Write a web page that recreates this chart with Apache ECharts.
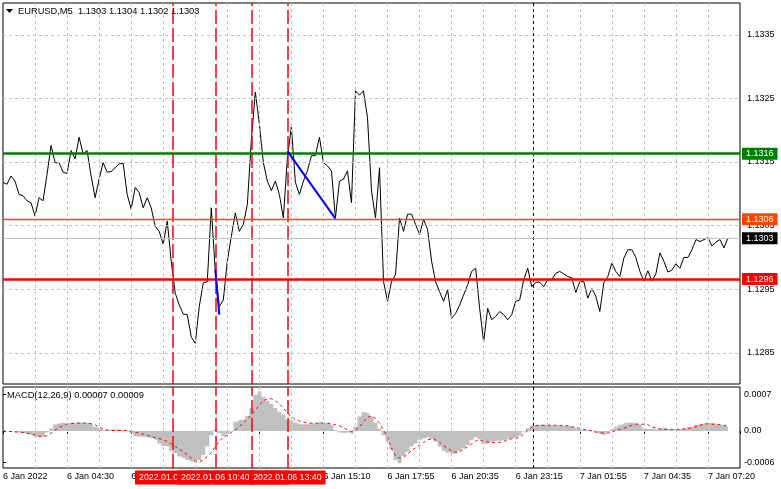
<!DOCTYPE html>
<html><head><meta charset="utf-8">
<script src="https://cdn.jsdelivr.net/npm/echarts@6/dist/echarts.min.js"></script>
<style>html,body{margin:0;padding:0;background:#fff;}#c{width:781px;height:489px;}</style>
</head><body><div id="c"></div>
<script>
// ---- data (one sample every 2 M5 bars, first bar = 6 Jan 01:50) ----
const prices = [
1.13118,1.13115,1.13128,1.13120,1.13099,1.13097,1.13089,1.13086,1.13065,1.13094,
1.13089,1.13131,1.13176,1.13149,1.13149,1.13134,1.13132,1.13168,1.13155,1.13189,
1.13163,1.13168,1.13128,1.13094,1.13123,1.13149,1.13134,1.13135,1.13141,1.13147,
1.13148,1.13099,1.13076,1.13110,1.13102,1.13078,1.13094,1.13078,1.13049,1.13041,
1.13021,1.13057,1.12994,1.12944,1.12925,1.12911,1.12910,1.12875,1.12865,1.12923,
1.12960,1.12962,1.13078,1.12978,1.12923,1.12933,1.12994,1.13033,1.13070,1.13041,
1.13052,1.13083,1.13184,1.13260,1.13210,1.13149,1.13120,1.13105,1.13120,1.13099,
1.13062,1.13157,1.13205,1.13118,1.13099,1.13120,1.13136,1.13160,1.13160,1.13189,
1.13149,1.13144,1.13136,1.13062,1.13120,1.13123,1.13136,1.13086,1.13262,1.13255,
1.13262,1.13220,1.13105,1.13062,1.13141,1.12962,1.12931,1.12962,1.12973,1.13062,
1.13041,1.13068,1.13068,1.13052,1.13036,1.13060,1.13044,1.12994,1.12962,1.12946,
1.12931,1.12949,1.12904,1.12912,1.12925,1.12941,1.12957,1.12978,1.12983,1.12920,
1.12867,1.12920,1.12902,1.12907,1.12915,1.12910,1.12902,1.12910,1.12931,1.12933,
1.12965,1.12983,1.12954,1.12961,1.12961,1.12954,1.12965,1.12965,1.12975,1.12978,
1.12974,1.12970,1.12968,1.12945,1.12962,1.12962,1.12936,1.12951,1.12939,1.12915,
1.12960,1.12970,1.12991,1.12978,1.12970,1.12999,1.13012,1.13012,1.13000,1.12978,
1.12963,1.12979,1.12963,1.12974,1.13007,1.12994,1.12977,1.12980,1.12990,1.12983,
1.13000,1.13000,1.13012,1.13028,1.13025,1.13028,1.13031,1.13018,1.13024,1.13028,
1.13015,1.13031];
const macdMain = [
0.00001,0,-0.00001,-0.00002,-0.00003,-0.00004,-0.00006,-0.00008,-0.00011,-0.00012,
-0.0001,-0.00003,0.00005,0.00013,0.00015,0.00016,0.00015,0.00016,0.00016,0.00017,
0.00016,0.00016,0.00013,0.00008,0.00005,0.00002,0.00002,0.00003,0.00003,0.00003,
0.00002,0.00001,-0.00004,-0.0001,-0.00011,-0.00011,-0.00012,-0.00014,-0.00017,-0.00024,
-0.00029,-0.0003,-0.00038,-0.00043,-0.00049,-0.00052,-0.00056,-0.00059,-0.00061,-0.00056,
-0.00046,-0.0003,-0.00008,0.00003,-0.00004,-0.0001,-0.00006,-0.00001,0.00018,0.00021,
0.00022,0.00029,0.00044,0.00069,0.00076,0.00066,0.00058,0.00052,0.00044,0.00037,
0.00031,0.00022,0.0002,0.00016,0.00013,0.00013,0.00013,0.00015,0.00015,0.00018,
0.00016,0.00015,0.00012,0.00002,-0.00003,-0.00004,-0.00003,-0.00006,0.00008,0.00028,
0.00036,0.00034,0.00028,0.00016,0.00005,-0.00008,-0.0002,-0.00036,-0.00056,-0.00062,
-0.00048,-0.0004,-0.0003,-0.00024,-0.00017,-0.00014,-0.00012,-0.00016,-0.0002,-0.0003,
-0.00038,-0.00042,-0.00044,-0.00043,-0.00038,-0.00033,-0.00027,-0.00017,-0.00012,-0.00016,
-0.00025,-0.00024,-0.0002,-0.00019,-0.00019,-0.00017,-0.00016,-0.00014,-0.00011,-0.00008,
-0.00001,0.00005,0.0001,0.00012,0.00012,0.00012,0.00012,0.00011,0.00011,0.0001,
0.0001,0.0001,0.00008,0.00005,0.00003,0.00002,0.00002,0.00001,-0.00003,-0.00006,
-0.00008,-0.00003,0.00003,0.00008,0.00012,0.00015,0.00016,0.00016,0.00015,0.00012,
0.00005,0.00004,0.00005,0.00003,0.00005,0.00006,0.00003,0.00003,0.00004,0.00004,
0.00005,0.00007,0.00008,0.00012,0.00013,0.00015,0.00016,0.00015,0.00013,0.00012,
0.0001,0.00007];
const macdSignal = [
0,-0.00001,-0.00001,-0.00002,-0.00002,-0.00003,-0.00004,-0.00006,-0.00008,-0.0001,
-0.00011,-0.00009,-0.00004,0.00002,0.00006,0.0001,0.00013,0.00014,0.00015,0.00015,
0.00015,0.00015,0.00014,0.00012,0.00008,0.00004,0.00002,0.00001,0.00001,0.00001,
0.00001,0.00001,-0.00001,-0.00003,-0.00004,-0.00006,-0.00008,-0.00011,-0.00013,-0.00015,
-0.00017,-0.0002,-0.00025,-0.0003,-0.00035,-0.0004,-0.00046,-0.00052,-0.00058,-0.00059,
-0.00056,-0.00049,-0.00042,-0.0003,-0.0002,-0.00012,-0.00008,-0.00003,0.00002,0.00008,
0.00016,0.00022,0.00031,0.0004,0.0005,0.00058,0.00062,0.00062,0.00058,0.00052,
0.00044,0.00035,0.00028,0.00022,0.00019,0.00017,0.00015,0.00015,0.00015,0.00015,
0.00015,0.00015,0.00014,0.00012,0.0001,0.00006,0.00002,-0.00001,0.00002,0.00008,
0.00018,0.00026,0.00029,0.00024,0.00015,0.00002,-0.00012,-0.00033,-0.00048,-0.00052,
-0.00051,-0.00044,-0.00038,-0.00032,-0.00028,-0.00022,-0.00017,-0.00015,-0.00017,-0.00022,
-0.00028,-0.00033,-0.00038,-0.00041,-0.0004,-0.00035,-0.0003,-0.00025,-0.00019,-0.00017,
-0.0002,-0.00021,-0.00022,-0.00022,-0.00022,-0.0002,-0.00017,-0.00015,-0.00014,-0.00012,
-0.00006,0.00001,0.00007,0.0001,0.00011,0.00011,0.00011,0.00011,0.00011,0.00011,
0.0001,0.0001,0.00008,0.00007,0.00005,0.00003,0.00002,0,-0.00002,-0.00004,
-0.00004,-0.00004,-0.00002,0.00001,0.00003,0.00005,0.00008,0.00011,0.00013,0.00013,
0.00013,0.00012,0.00008,0.00006,0.00004,0.00003,0.00003,0.00003,0.00003,0.00003,
0.00004,0.00005,0.00006,0.00008,0.00011,0.00013,0.00014,0.00013,0.00013,0.00012,
0.00011,0.00009];
const barsPerSample = 2;
const lastBar = 368;
const timeLabelBars = [0,32,64,96,128,160,192,224,256,288,320,352];
const timeLabels = ['6 Jan 2022','6 Jan 04:30','6 Jan 07:10','6 Jan 09:50','6 Jan 12:30','6 Jan 15:10',
                    '6 Jan 17:55','6 Jan 20:35','6 Jan 23:15','7 Jan 01:55','7 Jan 04:35','7 Jan 07:20'];
const gridBars = [16,32,48,64,80,96,112,128,144,160,176,192,208,224,240,256,272,288,304,320,336,352];
const priceTicks = [1.1285,1.1295,1.1305,1.1315,1.1325,1.1335];
const priceTickLabels = ['1.1285','1.1295','1.1305','1.1315','1.1325','1.1335'];
const levelValues = [1.13163,1.1306,1.1303,1.12966];
const levelLabels = ['1.1316','1.1306','1.1303','1.1296'];
const trend1Bars = [106,108], trend1Prices = [1.12981,1.12910];
const trend2Bars = [142,166], trend2Prices = [1.13167,1.13061];
const eventBars = [85,106,124,142];
const eventLabels = ['2022.01.06 08:55','2022.01.06 10:40','2022.01.06 12:10','2022.01.06 13:40'];
const nowBar = 265;
const macdTicks = [0.0007,0,-0.0006];
const macdTickLabels = ['0.0007','0.00','-0.0006'];
const title = 'EURUSD,M5  1.1303 1.1304 1.1302 1.1303';
const macdTitle = 'MACD(12,26,9) 0.00007 0.00009';

// ---- styles ----
const FF = 'Liberation Sans';
const levelColors = ['#008000','#ff4500','#c0c0c0','#ff0000'];
const levelBg = ['#008000','#ff4500','#000000','#ff0000'];
const levelWidths = [2.5,1.3,1,2.5];
const gridStyle = {color:'#c0c0c0', width:1, type:[3,3]};
const redDash = {color:'#ff0000', width:1.5, type:[14,4]};
const nowStyle = {color:'#000', width:1, type:[3,3]};

const chart = echarts.init(document.getElementById('c'), null, {renderer:'canvas'});
const pricePts = prices.map((p,i)=>[i*barsPerSample,p]);
const mainPts = macdMain.map((v,i)=>[i*barsPerSample,v]);
const sigPts = macdSignal.map((v,i)=>[i*barsPerSample,v]);
const pick = (vals, labs) => v => { let k=0,d=1e9; vals.forEach((x,i)=>{const dd=Math.abs(x-v); if(dd<d){d=dd;k=i;}}); return labs[k]; };

function xAxisCfg(gi, showLabels){
  return {type:'value', gridIndex:gi, min:0, max:lastBar, interval:32,
    axisLine:{show:false}, splitLine:{show:false},
    axisTick:{show:showLabels, length:3, lineStyle:{color:'#000'}},
    axisLabel:{show:showLabels, align:'left', margin:4, color:'#000', fontFamily:FF, fontSize:9,
      formatter:v=>{const k=timeLabelBars.indexOf(v); return k<0?'':timeLabels[k];}}};
}
const vMarks = (gi) => ({
  type:'line', xAxisIndex:gi, yAxisIndex:gi, data:[], z:1, silent:true,
  markLine:{symbol:'none', silent:true, animation:false, precision:8, label:{show:false},
    data: gridBars.map(b=>({xAxis:b, lineStyle:gridStyle}))
      .concat(gi===0 ? priceTicks.map(v=>({yAxis:v, lineStyle:gridStyle})) : [])
      .concat(eventBars.map(b=>({xAxis:b, lineStyle:redDash})))
      .concat([{xAxis:nowBar, lineStyle:nowStyle}])}
});

chart.setOption({
  animation:false,
  grid:[
    {left:3, right:41, top:3, height:381, show:true, borderColor:'#000', borderWidth:1, backgroundColor:'#fff'},
    {left:3, right:41, top:387, height:81, show:true, borderColor:'#000', borderWidth:1, backgroundColor:'#fff'}
  ],
  xAxis:[xAxisCfg(0,false), xAxisCfg(1,true)],
  yAxis:[
    {type:'value', gridIndex:0, position:'right', min:1.12801, max:1.13400, scale:true,
     axisLine:{show:false}, splitLine:{show:false},
     axisTick:{show:true, length:3, lineStyle:{color:'#000'}, customValues:priceTicks},
     axisLabel:{customValues:priceTicks, margin:7, color:'#000', fontFamily:FF, fontSize:9,
       formatter: pick(priceTicks, priceTickLabels)}},
    {type:'value', gridIndex:1, position:'right', min:-0.000712, max:0.000846,
     axisLine:{show:false}, splitLine:{show:false},
     axisTick:{show:true, length:3, lineStyle:{color:'#000'}, customValues:macdTicks},
     axisLabel:{customValues:macdTicks, margin:4, color:'#000', fontFamily:FF, fontSize:9,
       formatter: pick(macdTicks, macdTickLabels)}}
  ],
  series:[
    vMarks(0), vMarks(1),
    {type:'line', name:'EURUSD', xAxisIndex:0, yAxisIndex:0, data:pricePts, z:3, symbol:'none',
     lineStyle:{color:'#000', width:1}, silent:true,
     markLine:{symbol:'none', silent:true, animation:false, precision:8,
       data: levelValues.map((v,i)=>({yAxis:v,
         lineStyle:{color:levelColors[i], width:levelWidths[i], type:'solid'},
         label:{show:true, position:'end', distance:2, formatter:levelLabels[i],
           backgroundColor:levelBg[i], color:'#fff', padding:[2,4,1,4], fontFamily:FF, fontSize:9}}))}},
    {type:'line', xAxisIndex:0, yAxisIndex:0, z:5, symbol:'none', silent:true,
     data: trend1Bars.map((b,i)=>[b,trend1Prices[i]]), lineStyle:{color:'#0000ff', width:2}},
    {type:'line', xAxisIndex:0, yAxisIndex:0, z:5, symbol:'none', silent:true,
     data: trend2Bars.map((b,i)=>[b,trend2Prices[i]]), lineStyle:{color:'#0000ff', width:2}},
    {type:'line', name:'MACD', xAxisIndex:1, yAxisIndex:1, data:mainPts, z:2, silent:true,
     step:'middle', symbol:'none', lineStyle:{width:0, color:'#c0c0c0'},
     areaStyle:{color:'#c0c0c0', opacity:1, origin:0}},
    {type:'line', name:'Signal', xAxisIndex:1, yAxisIndex:1, data:sigPts, z:3, symbol:'none', silent:true,
     lineStyle:{color:'#ff0000', width:1, type:[3,3]}}
  ]
});

const px = b => chart.convertToPixel({xAxisIndex:1}, b);
const order = [2,0,1,3];
const g = [
  {type:'polygon', z:100, shape:{points:[[6,9],[13,9],[9.5,13]]}, style:{fill:'#000'}},
  {type:'text', z:100, style:{text:title, x:18, y:11, fill:'#000', font:'9.3px "Liberation Sans"',
     align:'left', textAlign:'left', verticalAlign:'middle', textVerticalAlign:'middle'}},
  {type:'text', z:100, style:{text:macdTitle, x:7, y:395, fill:'#000', font:'9.3px "Liberation Sans"',
     align:'left', textAlign:'left', verticalAlign:'middle', textVerticalAlign:'middle'}}
];
order.forEach((k,j)=>{
  g.push({type:'text', z:110+j, style:{text:eventLabels[k], x:px(eventBars[k]), y:477.5,
    fill:'#fff', backgroundColor:'#ff0000', padding:[3,4,2,4], font:'8.8px "Liberation Sans"',
    align:'center', textAlign:'center', verticalAlign:'middle', textVerticalAlign:'middle'}});
});
chart.setOption({graphic:g});
</script></body></html>
